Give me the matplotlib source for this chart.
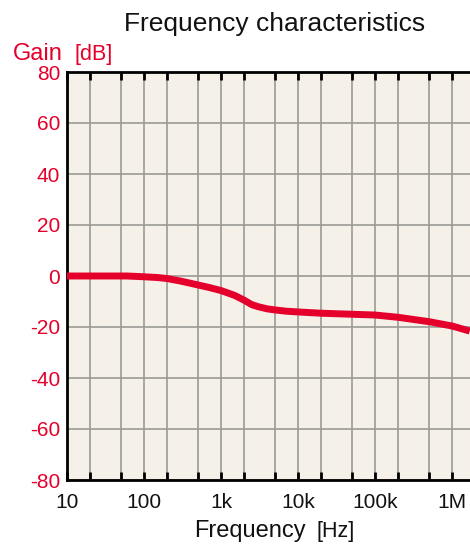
import numpy as np
import matplotlib
matplotlib.use("Agg")
import matplotlib.pyplot as plt
from matplotlib.ticker import FixedLocator, NullFormatter

plt.rcParams['font.family'] = ['Liberation Sans', 'DejaVu Sans']

# Measured gain response
freq_hz = [10, 30, 60, 100, 150, 200, 300, 500, 700, 1000, 1500, 2000, 2500,
           3000, 4000, 5000, 7000, 10000, 20000, 50000, 100000, 200000,
           500000, 1000000, 1700000]
gain_db = [0.0, 0.0, 0.0, -0.3, -0.6, -1.0, -2.0, -3.5, -4.5, -5.7, -7.6,
           -9.5, -11.2, -12.0, -12.9, -13.3, -13.8, -14.1, -14.6, -15.0,
           -15.3, -16.2, -17.9, -19.6, -21.6]

y_ticks = [-80, -60, -40, -20, 0, 20, 40, 60, 80]
x_ticks = [10, 100, 1e3, 1e4, 1e5, 1e6]
x_tick_labels = ["10", "100", "1k", "10k", "100k", "1M"]

red = "#e4002b"
W, H = 470, 545
fig = plt.figure(figsize=(W / 100, H / 100), dpi=100)

left, right, top, bottom = 67, 529, 72, 480
ax = fig.add_axes([left / W, 1 - bottom / H, (right - left) / W, (bottom - top) / H])
ax.set_facecolor("#f5f0e8")

ax.set_xscale("log")
ax.set_xlim(10, 1e7)
ax.set_ylim(-80, 80)

minor = [m * 10 ** e for e in range(1, 7) for m in (2, 5)]
ax.xaxis.set_major_locator(FixedLocator(x_ticks))
ax.xaxis.set_minor_locator(FixedLocator(minor))
ax.xaxis.set_minor_formatter(NullFormatter())
ax.set_xticklabels(x_tick_labels)
ax.set_yticks(y_ticks)
ax.set_yticklabels([str(v) for v in y_ticks])

ax.grid(True, which="both", axis="x", color="#9a9a96", linewidth=1.2)
ax.grid(True, which="major", axis="y", color="#9a9a96", linewidth=1.2)
ax.set_axisbelow(True)

ax.tick_params(axis="x", which="both", direction="in", top=True, bottom=True,
               length=6, width=2, color="black", labelsize=15, pad=9,
               labelcolor="#111111")
ax.tick_params(axis="y", which="both", length=0, labelsize=15,
               labelcolor=red, pad=5)

for s in ("left", "top", "bottom"):
    ax.spines[s].set_linewidth(2)
    ax.spines[s].set_color("black")
ax.spines["right"].set_visible(False)

ax.plot(freq_hz, gain_db, color=red, linewidth=5, solid_capstyle="butt",
        clip_on=True, zorder=3)

fig.text(275 / W, 1 - 31 / H, "Frequency characteristics", ha="center",
         va="baseline", fontsize=19, color="#111111")
fig.text(13 / W, 1 - 60 / H, "Gain", ha="left", va="baseline", fontsize=17,
         color=red)
fig.text(75 / W, 1 - 60 / H, "[dB]", ha="left", va="baseline", fontsize=15.5,
         color=red)
fig.text(194 / W, 1 - 537 / H, "Frequency", ha="left", va="baseline",
         fontsize=17, color="#111111")
fig.text(317 / W, 1 - 537 / H, "[Hz]", ha="left", va="baseline", fontsize=15.5,
         color="#111111")

fig.savefig("out.png", dpi=100)
